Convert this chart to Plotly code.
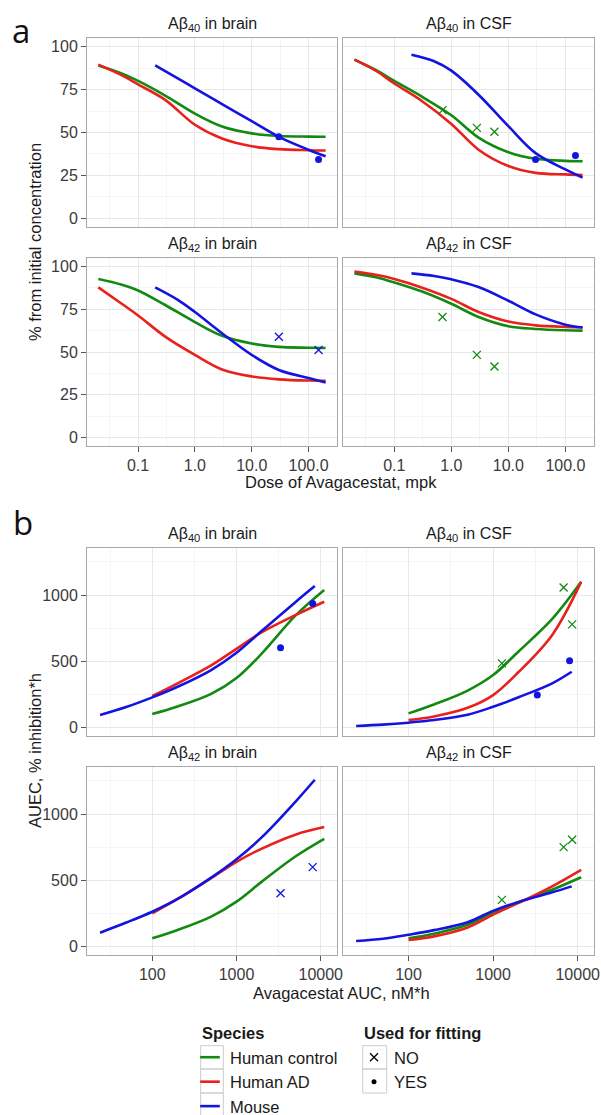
import plotly.graph_objects as go

# ---------------- data ----------------
SPECIES = ["Human control", "Human AD", "Mouse"]
COLORS = ["#128a12", "#e8211d", "#1414e0"]
FIT_LABELS = ["NO", "YES"]

# panel a : dose (mpk) vs % from initial concentration (model curves)
DOSE_HUMAN = [0.02, 0.05, 0.1, 0.3, 1, 3, 10, 30, 100, 200]
DOSE_MOUSE = [0.2, 0.5, 1, 3, 10, 30, 100, 200]

AB40_BRAIN_HC = [89, 84.5, 80, 71.5, 61, 53.5, 49.5, 48, 47.6, 47.5]
AB40_BRAIN_AD = [89.5, 83.5, 78, 69, 54.5, 46.5, 42, 40.3, 39.7, 39.5]
AB40_BRAIN_MO = [89, 81.5, 75.7, 66.5, 56.6, 47.5, 40, 36.2]
AB40_CSF_HC = [92.4, 86, 80, 71, 60, 47, 38.5, 34.7, 33.5, 33.3]
AB40_CSF_AD = [92.4, 85.5, 78.5, 68.5, 55, 40, 30.5, 26.5, 25.6, 25.3]
AB40_CSF_MO = [95.3, 91.5, 86, 72, 53.7, 38, 28.5, 23.7]
AB42_BRAIN_HC = [92.7, 89.5, 86, 77.5, 67.5, 59.5, 55, 53, 52.5, 52.3]
AB42_BRAIN_AD = [87.8, 78.5, 71.4, 59, 48.3, 39.8, 35.7, 34, 33.3, 33.2]
AB42_BRAIN_MO = [87.8, 80.5, 73.4, 61, 48.3, 39.5, 34.8, 32.2]
AB42_CSF_HC = [96, 93.6, 90.7, 85.5, 78.2, 70.5, 65.1, 63.5, 62.7, 62.5]
AB42_CSF_AD = [97.1, 95, 92.7, 87.8, 81.1, 73.4, 67.8, 65.6, 64.7, 64.5]
AB42_CSF_MO = [96, 94.5, 92.5, 88, 80, 72, 66, 64.3]

# panel a : observations
OBS_DOSE_HUMAN = [0.7, 2.8, 5.7]
OBS_DOSE_MOUSE = [30, 150]
OBS_AB40_BRAIN_MO = [47.5, 34.3]      # used for fitting: YES
OBS_AB40_CSF_HC = [63, 52.7, 50.4]    # NO
OBS_AB40_CSF_MO = [34.3, 36.6]        # YES
OBS_AB42_BRAIN_MO = [58.9, 51.2]      # NO
OBS_AB42_CSF_HC = [70.5, 48.3, 41.5]  # NO

# panel b : AUC (nM*h) vs AUEC (% inhibition*h) (model curves)
AUC_HUMAN = [100, 200, 500, 1000, 2000, 5000, 11000]
AUC_MOUSE = [24, 50, 100, 200, 500, 1000, 2000, 5000, 8500]

AUEC40_BRAIN_HC = [103, 160, 255, 375, 560, 845, 1038]
AUEC40_BRAIN_AD = [239, 335, 470, 595, 720, 849, 950]
AUEC40_BRAIN_MO = [96, 158, 229, 309, 435, 565, 731, 947, 1068]
AUEC40_CSF_HC = [108, 175, 280, 397, 575, 820, 1100]
AUEC40_CSF_AD = [58, 85, 150, 246, 420, 700, 1100]
AUEC40_CSF_MO = [13, 23, 38, 58, 98, 158, 230, 335, 422]
AUEC42_BRAIN_HC = [63, 126, 227, 340, 491, 680, 813]
AUEC42_BRAIN_AD = [252, 360, 517, 640, 740, 845, 902]
AUEC42_BRAIN_MO = [106, 184, 264, 360, 521, 660, 826, 1093, 1259]
AUEC42_CSF_HC = [63, 98, 165, 258, 335, 430, 524]
AUEC42_CSF_AD = [51, 78, 145, 242, 330, 455, 579]
AUEC42_CSF_MO = [43, 60, 90, 125, 185, 270, 338, 410, 455]

# panel b : observations
OBS_AUC_HUMAN = [1270, 6820, 8600]
OBS_AUC_MOUSE = [3330, 8020]
OBS_AUEC40_BRAIN_MO = [603, 937]        # YES
OBS_AUEC40_CSF_HC = [485, 1058, 779]    # NO
OBS_AUEC40_CSF_MO = [246, 505]          # YES
OBS_AUEC42_BRAIN_MO = [403, 600]        # NO
OBS_AUEC42_CSF_HC = [353, 751, 806]     # NO

TITLES = ["Aβ<sub>40</sub> in brain", "Aβ<sub>40</sub> in CSF",
          "Aβ<sub>42</sub> in brain", "Aβ<sub>42</sub> in CSF"]
A_XTICKS = [0.1, 1, 10, 100]
A_XTICKTEXT = ["0.1", "1.0", "10.0", "100.0"]
A_YTICKS = [0, 25, 50, 75, 100]
B_XTICKS = [100, 1000, 10000]
B_XTICKTEXT = ["100", "1000", "10000"]
B_YTICKS = [0, 500, 1000]

# ---------------- layout geometry ----------------
W, H = 601, 1115
FONT = "Liberation Sans, Arial, sans-serif"
COLS = [(87, 337), (343, 594)]
ROWS = [(38, 227), (258, 446), (547.7, 736), (766.7, 955)]


def xdom(c):
    return [c[0] / W, c[1] / W]


def ydom(r):
    return [1 - r[1] / H, 1 - r[0] / H]


panels = [
    # (row, col, kind, curves, obs)
    (0, 0, "a", [(DOSE_HUMAN, AB40_BRAIN_HC, 0), (DOSE_HUMAN, AB40_BRAIN_AD, 1), (DOSE_MOUSE, AB40_BRAIN_MO, 2)],
     [(OBS_DOSE_MOUSE, OBS_AB40_BRAIN_MO, 2, "YES")]),
    (0, 1, "a", [(DOSE_HUMAN, AB40_CSF_HC, 0), (DOSE_HUMAN, AB40_CSF_AD, 1), (DOSE_MOUSE, AB40_CSF_MO, 2)],
     [(OBS_DOSE_HUMAN, OBS_AB40_CSF_HC, 0, "NO"), (OBS_DOSE_MOUSE, OBS_AB40_CSF_MO, 2, "YES")]),
    (1, 0, "a", [(DOSE_HUMAN, AB42_BRAIN_HC, 0), (DOSE_HUMAN, AB42_BRAIN_AD, 1), (DOSE_MOUSE, AB42_BRAIN_MO, 2)],
     [(OBS_DOSE_MOUSE, OBS_AB42_BRAIN_MO, 2, "NO")]),
    (1, 1, "a", [(DOSE_HUMAN, AB42_CSF_HC, 0), (DOSE_HUMAN, AB42_CSF_AD, 1), (DOSE_MOUSE, AB42_CSF_MO, 2)],
     [(OBS_DOSE_HUMAN, OBS_AB42_CSF_HC, 0, "NO")]),
    (2, 0, "b", [(AUC_HUMAN, AUEC40_BRAIN_HC, 0), (AUC_HUMAN, AUEC40_BRAIN_AD, 1), (AUC_MOUSE, AUEC40_BRAIN_MO, 2)],
     [(OBS_AUC_MOUSE, OBS_AUEC40_BRAIN_MO, 2, "YES")]),
    (2, 1, "b", [(AUC_HUMAN, AUEC40_CSF_HC, 0), (AUC_HUMAN, AUEC40_CSF_AD, 1), (AUC_MOUSE, AUEC40_CSF_MO, 2)],
     [(OBS_AUC_HUMAN, OBS_AUEC40_CSF_HC, 0, "NO"), (OBS_AUC_MOUSE, OBS_AUEC40_CSF_MO, 2, "YES")]),
    (3, 0, "b", [(AUC_HUMAN, AUEC42_BRAIN_HC, 0), (AUC_HUMAN, AUEC42_BRAIN_AD, 1), (AUC_MOUSE, AUEC42_BRAIN_MO, 2)],
     [(OBS_AUC_MOUSE, OBS_AUEC42_BRAIN_MO, 2, "NO")]),
    (3, 1, "b", [(AUC_HUMAN, AUEC42_CSF_HC, 0), (AUC_HUMAN, AUEC42_CSF_AD, 1), (AUC_MOUSE, AUEC42_CSF_MO, 2)],
     [(OBS_AUC_HUMAN, OBS_AUEC42_CSF_HC, 0, "NO")]),
]

GRID = "#e8e8e8"
MINOR = "#f5f5f5"
BORDER = "#a8a8a8"
TICKC = "#555555"
TXT = "#3a3a3a"

fig = go.Figure()
layout = dict(width=W, height=H, autosize=False,
              margin=dict(l=0, r=0, t=0, b=0, pad=0, autoexpand=False),
              paper_bgcolor="white", plot_bgcolor="white",
              font=dict(family=FONT, size=16, color=TXT), showlegend=True)
annotations = []
shapes = []

for i, (r, c, kind, curves, obs) in enumerate(panels):
    n = i + 1
    xa = "x" if n == 1 else f"x{n}"
    ya = "y" if n == 1 else f"y{n}"
    bottom = r in (1, 3)
    left = c == 0
    if kind == "a":
        xr = [-1.899, 2.501]
        xt, xtt = A_XTICKS, A_XTICKTEXT
        xminor = [10 ** -1.5, 10 ** -0.5, 10 ** 0.5, 10 ** 1.5]
        yr = [-5, 105]
        yt = A_YTICKS
        yminor = [12.5, 37.5, 62.5, 87.5]
    else:
        xr = [1.225, 4.193]
        xt, xtt = B_XTICKS, B_XTICKTEXT
        xminor = [10 ** 1.5, 10 ** 2.5, 10 ** 3.5]
        yr = [-62.5, 1357.5]
        yt = B_YTICKS
        yminor = [250, 750, 1250]
    common = dict(showline=True, linecolor=BORDER, linewidth=1, mirror=True,
                  showgrid=True, gridcolor=GRID, gridwidth=1, zeroline=False,
                  automargin=False,
                  tickfont=dict(size=16, color=TXT, family=FONT), tickcolor=TICKC,
                  ticklen=5, tickwidth=1, fixedrange=True)
    xaxis = dict(common, type="log", range=xr, domain=xdom(COLS[c]), anchor=ya,
                 tickmode="array", tickvals=xt, ticktext=xtt,
                 minor=dict(tickmode="array", tickvals=xminor, showgrid=True,
                            gridcolor=MINOR, gridwidth=1, ticks=""),
                 ticks="outside" if bottom else "", showticklabels=bottom)
    yaxis = dict(common, range=yr, domain=ydom(ROWS[r]), anchor=xa,
                 tickmode="array", tickvals=yt,
                 minor=dict(tickmode="array", tickvals=yminor, showgrid=True,
                            gridcolor=MINOR, gridwidth=1, ticks=""),
                 ticks="outside" if left else "", showticklabels=left)
    layout["xaxis" if n == 1 else f"xaxis{n}"] = xaxis
    layout["yaxis" if n == 1 else f"yaxis{n}"] = yaxis

    for xs, ys, si in curves:
        fig.add_trace(go.Scatter(x=xs, y=ys, mode="lines", xaxis=xa, yaxis=ya,
                                 line=dict(color=COLORS[si], width=2.6, shape="spline", smoothing=1.0),
                                 showlegend=False, hoverinfo="skip"))
    for xs, ys, si, fit in obs:
        if fit == "NO":
            mk = dict(symbol="x-thin", size=8, line=dict(color=COLORS[si], width=1.3))
        else:
            mk = dict(symbol="circle", size=7, color=COLORS[si])
        fig.add_trace(go.Scatter(x=xs, y=ys, mode="markers", xaxis=xa, yaxis=ya,
                                 marker=mk, showlegend=False, hoverinfo="skip"))

    # strip title
    tx = (COLS[c][0] + COLS[c][1]) / 2
    ty = ROWS[r][0] - 13
    annotations.append(dict(text=TITLES[(r % 2) * 2 + c], x=tx / W, y=1 - ty / H,
                            xref="paper", yref="paper", xanchor="center", yanchor="middle",
                            showarrow=False, font=dict(size=16, color="#1a1a1a", family=FONT)))


def ann(text, x, y, size=16.5, angle=0, family=FONT, color="#1a1a1a", xanchor="center"):
    annotations.append(dict(text=text, x=x / W, y=1 - y / H, xref="paper", yref="paper",
                            xanchor=xanchor, yanchor="middle", showarrow=False, textangle=angle,
                            font=dict(size=size, color=color, family=family)))


ann("% from initial concentration", 35, 242, angle=-90)
ann("AUEC, % inhibition*h", 35, 751, angle=-90)
ann("Dose of Avagacestat, mpk", 341, 482)
ann("Avagacestat AUC, nM*h", 341, 993)
ann("a", 21, 31, size=33, family="Open Sans, sans-serif", color="#111111")
ann("b", 23, 522, size=33, family="Open Sans, sans-serif", color="#111111")
ann("<b>Species</b>", 200, 1033, size=16.5, xanchor="left")
ann("<b>Used for fitting</b>", 362, 1033, size=16.5, xanchor="left")

# legend key boxes (ggplot-style key backgrounds)
KEY_ROWS = [(1045.7, 1069), (1069, 1093), (1093, 1116)]
for k, (y0, y1) in enumerate(KEY_ROWS):
    shapes.append(dict(type="rect", xref="paper", yref="paper", x0=200.7 / W, x1=223.3 / W,
                       y0=1 - y1 / H, y1=1 - y0 / H, line=dict(color="#cccccc", width=1),
                       fillcolor="rgba(0,0,0,0)", layer="below"))
    if k < 2:
        shapes.append(dict(type="rect", xref="paper", yref="paper", x0=362.7 / W, x1=386.7 / W,
                           y0=1 - y1 / H, y1=1 - y0 / H, line=dict(color="#cccccc", width=1),
                           fillcolor="rgba(0,0,0,0)", layer="below"))

# legend entries (dummy traces with no data)
for name, col in zip(SPECIES, COLORS):
    fig.add_trace(go.Scatter(x=[None], y=[None], mode="markers", name=name, legend="legend",
                             marker=dict(symbol="line-ew", size=14, line=dict(color=col, width=2.6))))
fig.add_trace(go.Scatter(x=[None], y=[None], mode="markers", name=FIT_LABELS[0], legend="legend2",
                         marker=dict(symbol="x-thin", size=8, line=dict(color="black", width=1.3))))
fig.add_trace(go.Scatter(x=[None], y=[None], mode="markers", name=FIT_LABELS[1], legend="legend2",
                         marker=dict(symbol="circle", size=5, color="black")))

leg_common = dict(xanchor="left", yanchor="top", bgcolor="rgba(0,0,0,0)",
                  font=dict(size=16.5, color="#1a1a1a", family=FONT),
                  itemwidth=30, tracegroupgap=0, itemclick=False, itemdoubleclick=False)
layout["legend"] = dict(leg_common, x=190 / W, y=1 - 1040 / H)
layout["legend2"] = dict(leg_common, x=354 / W, y=1 - 1040 / H)

layout["annotations"] = annotations
layout["shapes"] = shapes
fig.update_layout(**layout)

POST = ("document.documentElement.style.margin='0';document.body.style.margin='0';"
        "document.body.style.padding='0';document.body.style.overflow='hidden';")
fig.write_html("out.html", post_script=POST, config={"responsive": False, "displayModeBar": False})
